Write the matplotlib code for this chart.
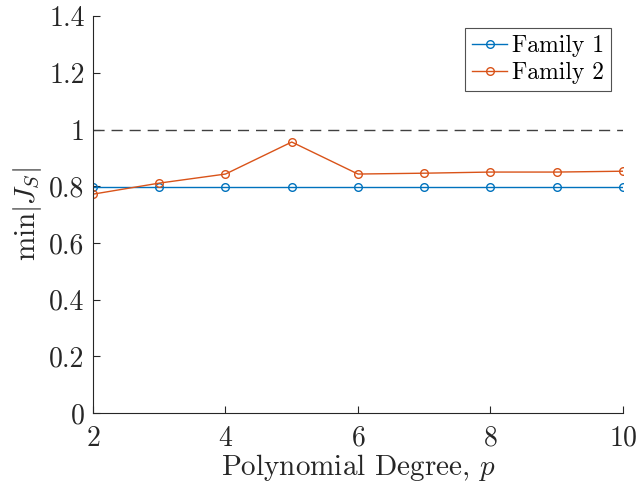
import matplotlib
matplotlib.use('Agg')
import matplotlib.pyplot as plt
from matplotlib.ticker import FuncFormatter

plt.rcParams['font.family'] = 'serif'
plt.rcParams['font.serif'] = ['cmr10']
plt.rcParams['mathtext.fontset'] = 'cm'
plt.rcParams['axes.formatter.use_mathtext'] = True

degree = [2, 3, 4, 5, 6, 7, 8, 9, 10]
family1 = [0.797, 0.797, 0.797, 0.797, 0.797, 0.797, 0.797, 0.797, 0.797]
family2 = [0.772, 0.811, 0.843, 0.956, 0.843, 0.846, 0.850, 0.850, 0.853]
threshold = 1.0

BLUE = '#0072BD'
ORANGE = '#D95319'
AX_COLOR = '#262626'

fig = plt.figure(figsize=(6.37, 4.91), dpi=100)
ax = fig.add_axes([0.146, 0.159, 0.832, 0.808])

ax.plot(degree, family1, color=BLUE, marker='o', markersize=5.5,
        markerfacecolor='none', markeredgewidth=1.0, linewidth=1.0, label='Family 1')
ax.plot(degree, family2, color=ORANGE, marker='o', markersize=5.5,
        markerfacecolor='none', markeredgewidth=1.0, linewidth=1.0, label='Family 2')
ax.axhline(threshold, color='#404040', linestyle=(0, (8, 5)), linewidth=1.0)

ax.set_xlim(2, 10)
ax.set_ylim(0, 1.4)
ax.set_xticks([2, 4, 6, 8, 10])
ax.set_yticks([0, 0.2, 0.4, 0.6, 0.8, 1.0, 1.2, 1.4])
ax.yaxis.set_major_formatter(FuncFormatter(lambda v, p: f'{v:g}'))

# box off, inward ticks (MATLAB look)
ax.spines['top'].set_visible(False)
ax.spines['right'].set_visible(False)
for s in ['left', 'bottom']:
    ax.spines[s].set_color(AX_COLOR)
    ax.spines[s].set_linewidth(0.8)
ax.tick_params(direction='in', length=5, width=0.8, colors=AX_COLOR,
               labelcolor=AX_COLOR, labelsize=20)
ax.tick_params(axis='y', pad=6)
ax.tick_params(axis='x', pad=9)

ax.set_xlabel('Polynomial Degree, $p$', fontsize=21, color=AX_COLOR, labelpad=0)
ax.set_ylabel(r'$\min|J_S|$', fontsize=21, color=AX_COLOR, labelpad=4)

leg = ax.legend(loc='upper right', fontsize=17, frameon=True, fancybox=False,
                edgecolor='#262626', borderpad=0.3, handlelength=1.5,
                handletextpad=0.2, labelspacing=0.2, borderaxespad=0.5)
leg.get_frame().set_linewidth(0.8)

fig.savefig('out.png', dpi=100)
